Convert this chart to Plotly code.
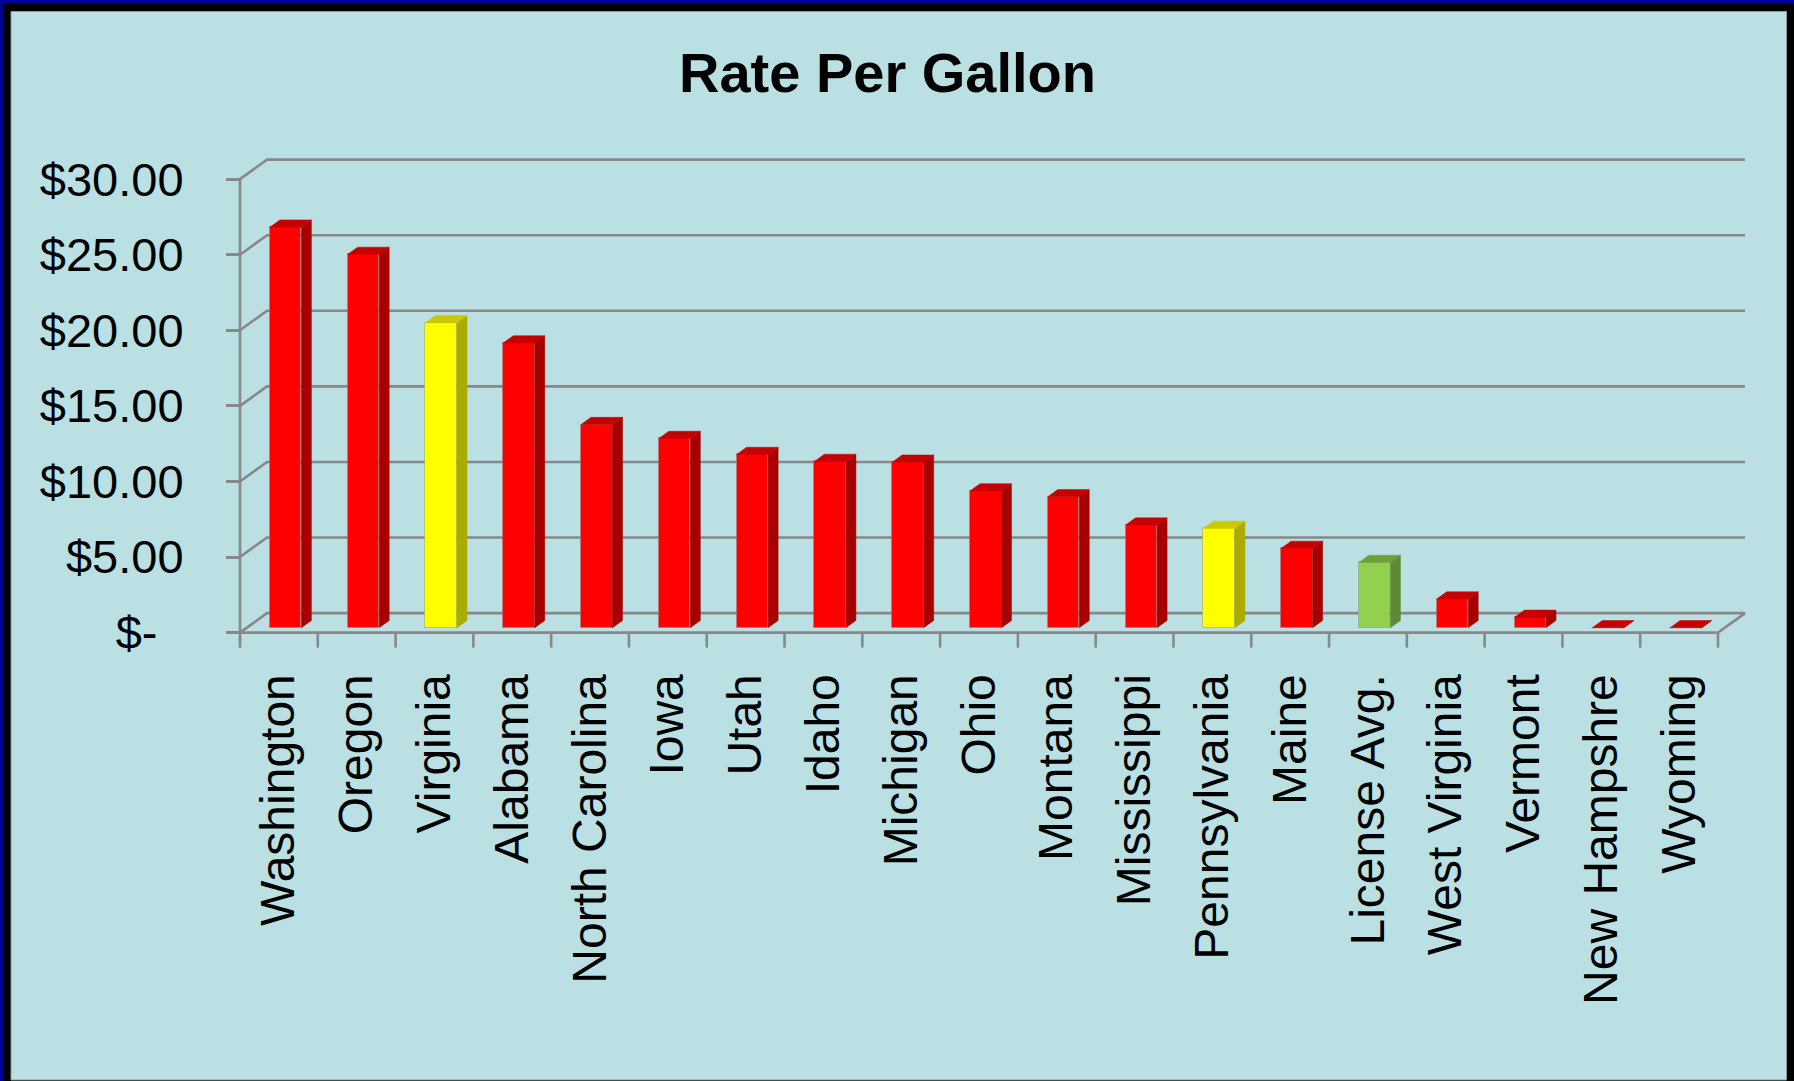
import plotly.graph_objects as go

# ---------------- data ----------------
categories = ["Washington", "Oregon", "Virginia", "Alabama", "North Carolina", "Iowa",
              "Utah", "Idaho", "Michigan", "Ohio", "Montana", "Mississippi",
              "Pennsylvania", "Maine", "License Avg.", "West Virginia", "Vermont",
              "New Hampshre", "Wyoming"]
rates = [26.50, 24.70, 20.18, 18.84, 13.44, 12.52, 11.46, 11.00, 10.95, 9.05, 8.66,
         6.79, 6.57, 5.25, 4.32, 1.90, 0.69, 0.0, 0.0]
highlighted = ["Virginia", "Pennsylvania"]
average_label = "License Avg."
y_ticks = [0, 5, 10, 15, 20, 25, 30]
y_tick_labels = ["$-\u00a0\u00a0", "$5.00", "$10.00", "$15.00", "$20.00", "$25.00", "$30.00"]
title_text = "Rate Per Gallon"

# ---------------- layout geometry ----------------
W, H = 1794, 1081
L, R, T, B = 200, 1760, 140, 660          # plot area in pixels
X0PX, Y0PX = 240, 632.6                   # front origin of the 3-D box
N = len(categories)
UX = (1718 - X0PX) / N                    # px per category
UY = (Y0PX - 179.1) / 30                  # px per dollar
DX, DY = 27 / UX, 19.5 / UY               # depth offset of the back wall (data units)
F, G, BW = 0.25, 0.37, 0.405              # bar front depth, bar depth, bar width
xr = [(L - X0PX) / UX, (R - X0PX) / UX]
yr = [(Y0PX - B) / UY, (Y0PX - T) / UY]

FONT = "Liberation Sans, Arial, sans-serif"
GRID = "#888888"
BG = "#BAE0E3"

palettes = {
    "red": ("#FF0000", "#A80000", "#C60000"),
    "yellow": ("#FFFF00", "#ABAB00", "#C9C900"),
    "green": ("#92D050", "#5F8A35", "#6F9E3D"),
}

def kind(c):
    if c in highlighted:
        return "yellow"
    if c == average_label:
        return "green"
    return "red"

kinds = [kind(c) for c in categories]
base = F * DY
centers = [i + 0.5 + F * DX for i in range(N)]

fig = go.Figure()

# front faces
fig.add_trace(go.Bar(
    x=centers, y=rates, base=base, width=BW,
    marker=dict(color=[palettes[k][0] for k in kinds],
                line=dict(color="rgba(140,140,140,0.45)", width=1)),
    hoverinfo="skip", showlegend=False,
))

# side and top faces
for cx, v, k in zip(centers, rates, kinds):
    xl, xrt = cx - BW / 2, cx + BW / 2
    top = base + v
    fig.add_trace(go.Scatter(
        x=[xrt, xrt, xrt + G * DX, xrt + G * DX, xrt],
        y=[base, top, top + G * DY, base + G * DY, base],
        fill="toself", fillcolor=palettes[k][1], mode="lines",
        line=dict(color=palettes[k][1], width=0.5),
        hoverinfo="skip", showlegend=False))
    fig.add_trace(go.Scatter(
        x=[xl, xrt, xrt + G * DX, xl + G * DX, xl],
        y=[top, top, top + G * DY, top + G * DY, top],
        fill="toself", fillcolor=palettes[k][2], mode="lines",
        line=dict(color=palettes[k][2], width=0.5),
        hoverinfo="skip", showlegend=False))

shapes = []
# frame of the whole picture
def px_to_paper_x(p):
    return (p - L) / (R - L)

def px_to_paper_y(p):
    return (B - p) / (B - T)

shapes.append(dict(type="rect", xref="paper", yref="paper", layer="below",
                   x0=px_to_paper_x(0), x1=px_to_paper_x(W), y0=px_to_paper_y(H), y1=px_to_paper_y(0),
                   fillcolor="#00009A", line=dict(width=0)))
shapes.append(dict(type="rect", xref="paper", yref="paper", layer="below",
                   x0=px_to_paper_x(3), x1=px_to_paper_x(W), y0=px_to_paper_y(H), y1=px_to_paper_y(3.5),
                   fillcolor="#000000", line=dict(width=0)))
shapes.append(dict(type="rect", xref="paper", yref="paper", layer="below",
                   x0=px_to_paper_x(11), x1=px_to_paper_x(1786.5), y0=px_to_paper_y(1080), y1=px_to_paper_y(11.5),
                   fillcolor=BG, line=dict(width=1, color="#8a9a9c")))

# back wall gridlines with their diagonals
for v in y_ticks:
    shapes.append(dict(type="path", xref="x", yref="y", layer="below",
                       path=f"M 0,{v} L {DX},{v + DY} L {N + DX},{v + DY}",
                       line=dict(color=GRID, width=2.6)))
# front axis, floor edges and category ticks
shapes.append(dict(type="line", xref="x", yref="y", layer="below",
                   x0=0, y0=0, x1=0, y1=max(y_ticks), line=dict(color=GRID, width=2.6)))
shapes.append(dict(type="line", xref="x", yref="y", layer="below",
                   x0=0, y0=0, x1=N, y1=0, line=dict(color=GRID, width=2.6)))
shapes.append(dict(type="line", xref="x", yref="y", layer="below",
                   x0=N, y0=0, x1=N + DX, y1=DY, line=dict(color=GRID, width=2.6)))
for k in range(N + 1):
    shapes.append(dict(type="line", xref="x", yref="y", layer="below",
                       x0=k, y0=0, x1=k, y1=-15 / UY, line=dict(color=GRID, width=2.6)))

fig.update_layout(
    width=W, height=H,
    margin=dict(l=L, r=W - R, t=T, b=H - B, pad=0),
    paper_bgcolor=BG, plot_bgcolor="rgba(0,0,0,0)",
    showlegend=False, bargap=0,
    shapes=shapes,
    title=dict(text=f"<b>{title_text}</b>", x=887.5 / W, xref="container", xanchor="center",
               y=1 - 72.5 / H, yref="container", yanchor="middle",
               font=dict(family=FONT, size=56, color="#000000")),
    xaxis=dict(range=xr, anchor="free", position=(B - Y0PX) / (B - T),
               tickmode="array", tickvals=[i + 0.5 for i in range(N)], ticktext=categories,
               tickangle=-90, ticks="", showline=False, showgrid=False, zeroline=False,
               ticklabelstandoff=31, automargin=False,
               tickfont=dict(family=FONT, size=48, color="#000000")),
    yaxis=dict(range=yr, anchor="free", position=(X0PX - L) / (R - L),
               tickmode="array", tickvals=y_ticks, ticktext=y_tick_labels,
               ticks="outside", ticklen=14, tickwidth=2.6, tickcolor=GRID,
               showline=False, showgrid=False, zeroline=False,
               ticklabelstandoff=33, automargin=False,
               tickfont=dict(family=FONT, size=47, color="#000000")),
)

fig.write_html("out.html")
